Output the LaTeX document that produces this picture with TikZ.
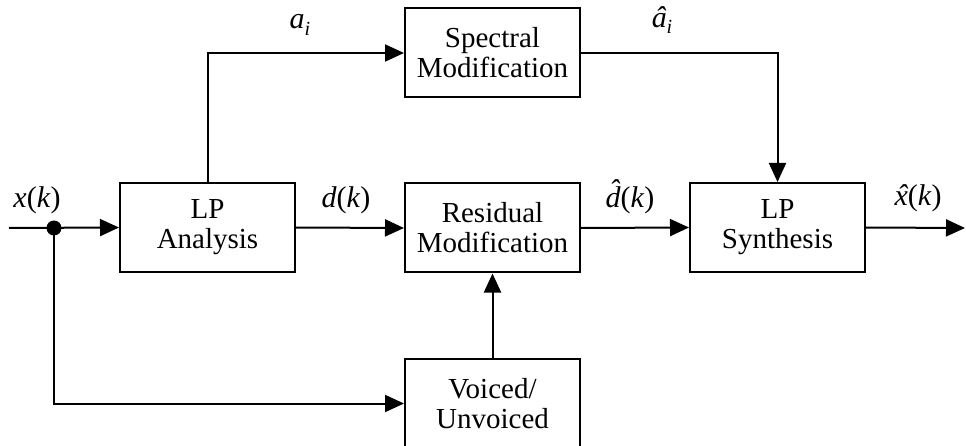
\documentclass[tikz,border=0pt]{standalone}
\usepackage{fontspec}
\setmainfont{Liberation Serif}
\usetikzlibrary{arrows.meta}
\newcommand\hatit[2][0pt]{{\setbox0\hbox{\textit{#2}}%
  \rlap{\hbox to \wd0{\hss\raisebox{#1}{\kern0.1em\textit{\char"02C6}}\hss}}\box0}}
\newcommand\subi{\raisebox{-0.22em}{\fontsize{20}{20}\selectfont\textit{i}}}
\begin{document}
\begin{tikzpicture}[x=1pt,y=-1pt,
  blk/.style={draw,line width=2pt,minimum width=175pt,minimum height=89pt,
    align=center,inner sep=0pt,font=\fontsize{29}{30}\selectfont},
  lbl/.style={inner sep=0pt,font=\fontsize{30}{30}\selectfont},
  arr/.style={line width=2pt,-{Triangle[length=19pt,width=17pt]}}]
\clip (0,0) rectangle (966,446);
\useasboundingbox (0,0) rectangle (966,446);
\node[blk] (lpa) at (207.5,227.5) {LP\\Analysis};
\node[blk] (spec) at (492.5,53) {Spectral\\Modification};
\node[blk] (res) at (492.5,228) {Residual\\Modification};
\node[blk] (lps) at (777.5,227.5) {LP\\Synthesis};
\node[blk] (vu) at (492.5,403.5) {Voiced/\\Unvoiced};
\coordinate (in) at (9,228);
\coordinate (dot) at (54,228);
\coordinate (out) at (965,228);
\draw[arr] (in) -- (lpa.west);
\fill (dot) circle[radius=7.5pt];
\draw[arr] (lpa.north) |- (spec.west);
\draw[arr] (spec.east) -| (lps.north);
\draw[arr] (lpa.east) -- (res.west);
\draw[arr] (res.east) -- (lps.west);
\draw[arr] (lps.east) -- (out);
\draw[arr] (dot) |- (vu.west);
\draw[arr] (vu.north) -- (res.south);
\node[lbl] (lx) at (37,200) {\textit{x}(\textit{k})};
\node[lbl] (la) at (300,25) {\textit{a}\subi};
\node[lbl] (lah) at (662,20) {\hatit{a}\subi};
\node[lbl] (ld) at (346,200) {\textit{d}(\textit{k})};
\node[lbl] (ldh) at (630,197) {\hatit[0.22em]{d}(\textit{k})};
\node[lbl] (lxh) at (918,198) {\hatit{x}(\textit{k})};
\end{tikzpicture}
\end{document}
